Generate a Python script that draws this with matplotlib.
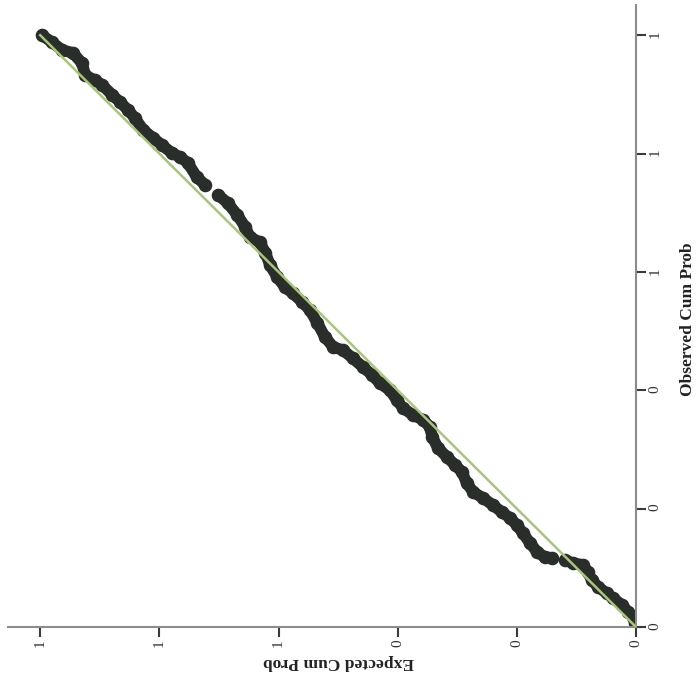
import matplotlib

matplotlib.use("Agg")
import matplotlib.pyplot as plt
import matplotlib.transforms as mtransforms
from matplotlib.ticker import FormatStrFormatter, MultipleLocator

plt.rcParams["font.family"] = ["Liberation Serif", "DejaVu Serif"]

# P-P plot (shown rotated: expected runs right-to-left,
# observed runs bottom-to-top). The points form three runs split by small gaps.
expected_upper = [
    0.997, 0.980, 0.963, 0.945, 0.930, 0.924, 0.908, 0.896, 0.879, 0.866,
    0.852, 0.841, 0.827, 0.810, 0.795, 0.779, 0.765, 0.752, 0.737, 0.723,
]
observed_upper = [
    1.000, 0.988, 0.975, 0.970, 0.953, 0.932, 0.924, 0.916, 0.899, 0.887,
    0.873, 0.860, 0.840, 0.826, 0.814, 0.801, 0.794, 0.784, 0.760, 0.747,
]
expected_middle = [
    0.701, 0.685, 0.669, 0.656, 0.648, 0.631, 0.622, 0.614, 0.602, 0.589,
    0.576, 0.560, 0.547, 0.535, 0.522, 0.508, 0.492, 0.475, 0.458, 0.443,
    0.430, 0.413, 0.401, 0.391, 0.374, 0.357, 0.346, 0.342, 0.332, 0.317,
    0.304, 0.292, 0.284, 0.273, 0.257, 0.240, 0.225, 0.211, 0.200, 0.190,
    0.178, 0.166, 0.153, 0.141,
]
observed_middle = [
    0.730, 0.716, 0.696, 0.676, 0.659, 0.650, 0.632, 0.611, 0.591, 0.574,
    0.564, 0.549, 0.535, 0.514, 0.490, 0.473, 0.468, 0.454, 0.439, 0.426,
    0.412, 0.400, 0.383, 0.370, 0.358, 0.350, 0.338, 0.321, 0.302, 0.287,
    0.274, 0.262, 0.243, 0.228, 0.218, 0.206, 0.194, 0.184, 0.172, 0.159,
    0.142, 0.127, 0.118, 0.117,
]
expected_lower = [
    0.119, 0.106, 0.089, 0.081, 0.074, 0.064, 0.049, 0.039, 0.023, 0.013,
    0.005, 0.002,
]
observed_lower = [
    0.113, 0.108, 0.105, 0.093, 0.079, 0.068, 0.057, 0.049, 0.037, 0.025,
    0.017, 0.007,
]
reference_line = [0.0, 1.0]

fig = plt.figure(figsize=(7.0, 6.87), dpi=100)
ax = fig.add_axes([0.0114, 0.0873, 0.8972, 0.9054])

point_color = "#2a2e2a"
runs = [
    (expected_upper, observed_upper),
    (expected_middle, observed_middle),
    (expected_lower, observed_lower),
]
for exp_run, obs_run in runs:
    # dense overlapping circles in the original -> thick path plus markers
    ax.plot(exp_run, obs_run, "-", color=point_color, linewidth=8.3,
            solid_capstyle="round", solid_joinstyle="round", zorder=2)
    ax.plot(exp_run, obs_run, "o", color=point_color, markersize=9.8,
            markeredgewidth=0, zorder=2)

ax.plot(reference_line, reference_line, color="#a9c47f", linewidth=1.8,
        zorder=3)

ax.set_xlim(1.054, 0.0)
ax.set_ylim(0.0, 1.051)

for side in ("left", "top"):
    ax.spines[side].set_visible(False)
for side in ("bottom", "right"):
    ax.spines[side].set_color("#8c8c8c")
    ax.spines[side].set_linewidth(1.5)

ax.yaxis.tick_right()
ax.xaxis.set_major_locator(MultipleLocator(0.2))
ax.yaxis.set_major_locator(MultipleLocator(0.2))
ax.xaxis.set_major_formatter(FormatStrFormatter("%.0f"))
ax.yaxis.set_major_formatter(FormatStrFormatter("%.0f"))
ax.tick_params(direction="out", length=7, width=1.5, color="#3a3a3a",
               labelsize=11, labelcolor="#333333", labelrotation=90, pad=2)

label_font = dict(fontsize=12.5, fontweight="bold", color="#222222")
ax.set_xlabel("Expected Cum Prob", rotation=180, va="center", **label_font)
ax.yaxis.set_label_position("right")
ax.set_ylabel("Observed Cum Prob", rotation=90, va="center", **label_font)

x_blend = mtransforms.blended_transform_factory(ax.transData, ax.transAxes)
y_blend = mtransforms.blended_transform_factory(ax.transAxes, ax.transData)
ax.xaxis.set_label_coords(0.5, -0.056, transform=x_blend)
ax.yaxis.set_label_coords(1.083, 0.52, transform=y_blend)

fig.savefig("out.png", dpi=100)
